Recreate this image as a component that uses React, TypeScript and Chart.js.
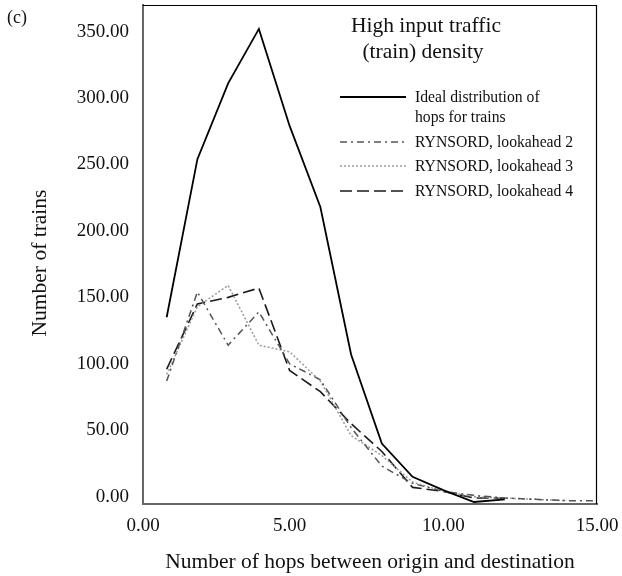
import React, { useEffect, useRef } from "react";
import { Chart, registerables } from "chart.js";

Chart.register(...registerables);

// ---- data ----
const hops = [1, 2, 3, 4, 5, 6, 7, 8, 9, 10, 11, 12, 13, 14, 15];
const idealTrains = [135, 254, 311, 352, 279, 218, 107, 40, 15, 5, -4, -2];
const lookahead2 = [87, 154, 114, 139, 100, 88, 52, 23, 10, 4, 1, -1, -2, -3, -3];
const lookahead3 = [92, 143, 159, 114, 109, 87, 46, 31, 11, 4, 0, -1, -2, -3];
const lookahead4 = [96, 145, 150, 157, 95, 79, 55, 34, 7, 4, -1, -1];
const yTickValues = [0, 50, 100, 150, 200, 250, 300, 350];
const xTickValues = [0, 5, 10, 15];
const seriesNames = [
  ["Ideal distribution of", "hops for trains"],
  ["RYNSORD, lookahead 2"],
  ["RYNSORD, lookahead 3"],
  ["RYNSORD, lookahead 4"],
];
const chartTitle = ["High input traffic", "(train) density"];
const yAxisTitle = "Number of trains";
const xAxisTitle = "Number of hops between origin and destination";

const X_MIN = 0.23;
const X_MAX = 15;
const Y_MIN = -5.5;
const Y_MAX = 370;

const FONT = "'Liberation Serif', 'DejaVu Serif', serif";

const styles = [
  { color: "#000000", width: 1.8, dash: [] as number[] },
  { color: "#555555", width: 1.5, dash: [7, 4, 2, 4] },
  { color: "#9a9a9a", width: 1.5, dash: [2, 2] },
  { color: "#1a1a1a", width: 1.6, dash: [12, 5] },
];

const toPoints = (vals: number[]) => vals.map((v, i) => ({ x: hops[i], y: v }));

const overlayPlugin = {
  id: "overlay",
  afterDraw(chart: any) {
    const ctx = chart.ctx as CanvasRenderingContext2D;
    const a = chart.chartArea;
    ctx.save();
    // top and right frame
    ctx.strokeStyle = "#000";
    ctx.lineWidth = 1.2;
    ctx.beginPath();
    ctx.moveTo(a.left, a.top + 0.5);
    ctx.lineTo(a.right - 0.5, a.top + 0.5);
    ctx.lineTo(a.right - 0.5, a.bottom);
    ctx.stroke();

    // panel label
    ctx.fillStyle = "#111";
    ctx.textBaseline = "middle";
    ctx.textAlign = "left";
    ctx.font = `18px ${FONT}`;
    ctx.fillText("(c)", 7, 18);

    // y axis title
    ctx.save();
    ctx.translate(40, 263);
    ctx.rotate(-Math.PI / 2);
    ctx.textAlign = "center";
    ctx.textBaseline = "middle";
    ctx.font = `21.5px ${FONT}`;
    ctx.fillText(yAxisTitle, 0, 0);
    ctx.restore();

    // title
    ctx.textAlign = "center";
    ctx.textBaseline = "alphabetic";
    ctx.font = `21.5px ${FONT}`;
    ctx.fillText(chartTitle[0], 426, 32);
    ctx.fillText(chartTitle[1], 423, 58);

    // legend
    const rows = [97, 142, 166, 191];
    ctx.font = `15.7px ${FONT}`;
    ctx.textAlign = "left";
    ctx.textBaseline = "middle";
    rows.forEach((y, i) => {
      const s = styles[i];
      ctx.strokeStyle = s.color;
      ctx.lineWidth = s.width;
      ctx.setLineDash(s.dash);
      ctx.beginPath();
      ctx.moveTo(340, y);
      ctx.lineTo(406, y);
      ctx.stroke();
      ctx.setLineDash([]);
      ctx.fillStyle = "#111";
      seriesNames[i].forEach((t, j) => ctx.fillText(t, 415, y + 1 + j * 20));
    });
    ctx.restore();
  },
};

export default function App() {
  const canvasRef = useRef<HTMLCanvasElement | null>(null);

  useEffect(() => {
    if (!canvasRef.current) return;
    const datasets = [idealTrains, lookahead2, lookahead3, lookahead4].map((vals, i) => ({
      label: seriesNames[i].join(" "),
      data: toPoints(vals),
      borderColor: styles[i].color,
      borderWidth: styles[i].width,
      borderDash: styles[i].dash,
      pointRadius: 0,
      fill: false,
      tension: 0,
    }));

    const chart = new Chart(canvasRef.current, {
      type: "line",
      data: { datasets },
      options: {
        animation: false,
        responsive: false,
        devicePixelRatio: 1,
        layout: { padding: { top: 5, right: 25, left: 0, bottom: 0 } },
        plugins: {
          legend: { display: false },
          tooltip: { enabled: false },
        },
        scales: {
          x: {
            type: "linear",
            min: X_MIN,
            max: X_MAX,
            afterBuildTicks: (scale: any) => {
              scale.ticks = xTickValues.map((v) => ({ value: Math.max(v, X_MIN) }));
            },
            afterFit: (scale: any) => {
              scale.height = 72;
              scale.paddingLeft = 0;
              scale.paddingRight = 0;
            },
            grid: { display: false, drawTicks: false },
            border: { display: true, color: "#666", width: 2 },
            ticks: {
              padding: 11,
              color: "#111",
              font: { family: FONT, size: 19 },
              maxRotation: 0,
              autoSkip: false,
              callback: (_v: any, i: number) => xTickValues[i].toFixed(2),
            },
            title: {
              display: true,
              text: xAxisTitle,
              color: "#111",
              font: { family: FONT, size: 21.5 },
              padding: { top: 0, bottom: 1 },
            },
          },
          y: {
            type: "linear",
            min: Y_MIN,
            max: Y_MAX,
            afterBuildTicks: (scale: any) => {
              scale.ticks = yTickValues.map((v) => ({ value: v }));
            },
            afterFit: (scale: any) => {
              scale.width = 143;
              scale.paddingTop = 0;
              scale.paddingBottom = 0;
            },
            grid: { display: false, drawTicks: false },
            border: { display: true, color: "#666", width: 2 },
            ticks: {
              padding: 14,
              color: "#111",
              font: { family: FONT, size: 19 },
              autoSkip: false,
              callback: (v: any) => Number(v).toFixed(2),
            },
            title: { display: false },
          },
        },
      },
      plugins: [overlayPlugin],
    });
    return () => chart.destroy();
  }, []);

  return (
    <div style={{ position: "fixed", left: 0, top: 0, width: 622, height: 576, background: "#fff" }}>
      <canvas ref={canvasRef} width={622} height={576} style={{ display: "block" }} />
    </div>
  );
}
